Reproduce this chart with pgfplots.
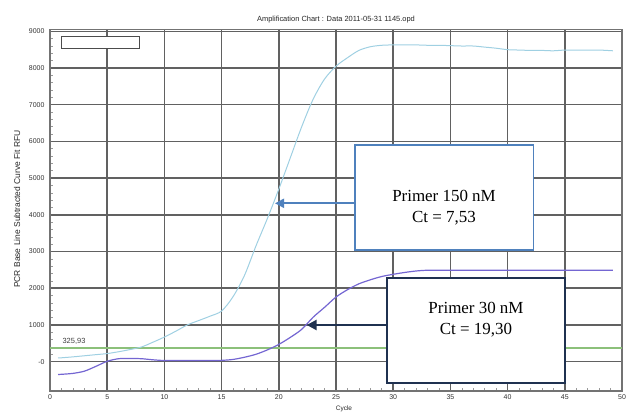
\documentclass[border=0pt]{standalone}
\usepackage{pgfplots}
\pgfplotsset{compat=1.18}
\usepackage{fontspec}
\setmainfont{Liberation Sans}
\newfontfamily\serif{Liberation Serif}
\usetikzlibrary{arrows.meta}
\definecolor{lblue}{HTML}{9FD0E2}
\definecolor{purp}{HTML}{7466D2}
\definecolor{thr}{HTML}{8CC07A}
\definecolor{boxblue}{HTML}{4F81BD}
\definecolor{navy}{HTML}{1F3150}

\begin{document}
\begin{tikzpicture}[x=1bp,y=1bp]
\useasboundingbox (0,0) rectangle (635,412);
\begin{axis}[
  at={(50bp,21bp)}, anchor=south west,
  scale only axis, width=572bp, height=361.5bp,
  xmin=0, xmax=50, ymin=-800, ymax=9050,
  xtick={0,5,...,50}, ytick={0,1000,...,9000},
  yticklabels={-0,1000,2000,3000,4000,5000,6000,7000,8000,9000},
  minor x tick num=4, minor y tick num=4,
  xtick pos=bottom, ytick pos=left,
  tick align=inside, major tick length=0bp, minor tick length=3bp,
  minor tick style={draw=black!40, line width=0.6bp},
  grid=major,
  major grid style={draw=black!62, line width=1.5bp},
  axis line style={draw=black!55, line width=1.5bp},
  /pgf/number format/assume math mode=true,
  ticklabel style={font=\fontsize{7}{8}\selectfont, text=black!80},
  yticklabel style={xshift=-2bp},
  xticklabel style={yshift=0bp},
  clip=true,
]
% threshold line
\addplot[thr, line width=1.3bp] coordinates {(0,370) (50,370)};
% Primer 150 nM
\addplot[lblue, line width=1bp, smooth] coordinates {
(0.7,100) (1,105) (2,130) (3,160) (4,190) (5,220) (6,270) (7,330) (8,400) (9,530)
(10,670) (11,830) (12,1000) (13,1120) (14,1240) (15,1380) (16,1770) (17,2350)
(18,3150) (19,3900) (20,4700) (21,5550) (22,6400) (23,7150) (24,7700) (25,8050)
(26,8280) (27,8480) (28,8580) (29,8620) (30,8630) (31,8630) (32,8630) (33,8620)
(34,8620) (35,8610) (36,8600) (37,8600) (38,8570) (39,8540) (40,8500) (41,8490)
(42,8480) (43,8480) (44,8470) (45,8490) (46,8490) (47,8490) (48,8490) (49.2,8470)};
% Primer 30 nM
\addplot[purp, line width=1.2bp, smooth] coordinates {
(0.7,-350) (1,-345) (2,-320) (3,-260) (4,-130) (5,10) (6,80) (7,85) (8,80) (9,50)
(10,30) (11,30) (12,30) (13,30) (14,30) (15,35) (16,60) (17,120) (18,200) (19,320)
(20,470) (21,660) (22,880) (23,1210) (24,1480) (25,1760) (26,1960) (27,2120)
(28,2230) (29,2320) (30,2380) (31,2430) (32,2470) (33,2490) (35,2490) (40,2490)
(45,2490) (49.2,2490)};
\end{axis}
% title and labels
\node[font=\fontsize{7.5}{9}\selectfont, text=black!85] at (336,392) {Amplification Chart : Data 2011-05-31 1145.opd};
\node[font=\fontsize{8.5}{10}\selectfont, text=black!85, rotate=90] at (17,203) {PCR Base Line Subtracted Curve Fit RFU};
\node[font=\fontsize{6.5}{7}\selectfont, text=black!85, anchor=base, inner sep=0pt] at (344,2) {Cycle};
\node[font=\fontsize{7.5}{9}\selectfont, text=black!75] at (74,70.3) {325,93};
% empty legend box
\draw[black!70, line width=1bp, fill=white] (61,375.3) rectangle (139,363.7);
% annotation 150 nM
\draw[boxblue, line width=1.2bp, fill=white] (355,267) rectangle (533.3,162);
\draw[boxblue, line width=2bp, -{Triangle[length=9bp,width=9bp]}] (355,208.7) -- (275,208.7);
\node[font=\serif\fontsize{17}{21}\selectfont, align=center] at (444,204.6) {Primer 150 nM\\Ct = 7,53};
% annotation 30 nM
\draw[navy, line width=2bp, fill=white] (387.3,133.7) rectangle (565,28.7);
\draw[navy, line width=2.5bp, -{Triangle[length=10bp,width=10bp]}] (387.3,87) -- (306.7,87);
\node[font=\serif\fontsize{17}{21}\selectfont, align=center] at (476,92) {Primer 30 nM\\Ct = 19,30};
\end{tikzpicture}
\end{document}
